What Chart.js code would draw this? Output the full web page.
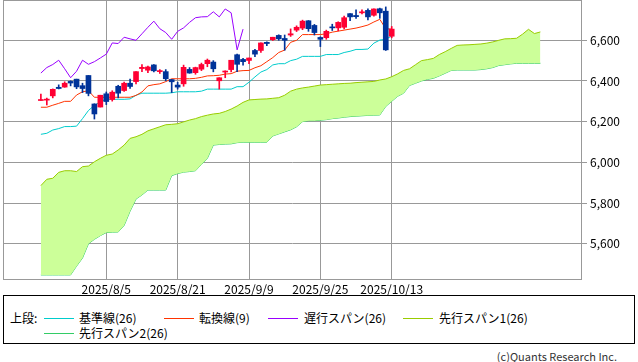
<!DOCTYPE html>
<html>
<head>
<meta charset="utf-8">
<script src="https://cdn.jsdelivr.net/npm/chart.js@4.4.1/dist/chart.umd.min.js"></script>
<style>
  body { margin: 0; background: #fff; font-family: 'Noto Sans CJK JP', 'Noto Sans', sans-serif; }
  #wrap { position: absolute; left: 0; top: 0; width: 638px; height: 295px; }
  #legend { position: absolute; left: 3px; top: 295px; width: 632px; height: 49px; border: 1px solid #000; box-sizing: border-box; }
  .lt { position: absolute; font-size: 12px; line-height: 14px; color: #000; white-space: nowrap; }
  .ll { position: absolute; width: 30px; height: 1px; }
  #copy { position: absolute; right: 21px; top: 348px; font-size: 11px; color: #333; }
</style>
</head>
<body>
<div id="wrap"><canvas id="chart"></canvas></div>
<div id="legend">
  <span class="lt" style="left:6px;top:15px">上段:</span>
  <span class="ll" style="left:40px;top:22px;background:#00cccc"></span>
  <span class="lt" style="left:75px;top:15px">基準線(26)</span>
  <span class="ll" style="left:160px;top:22px;background:#ff3300"></span>
  <span class="lt" style="left:195px;top:15px">転換線(9)</span>
  <span class="ll" style="left:264px;top:22px;background:#9900ff"></span>
  <span class="lt" style="left:300px;top:15px">遅行スパン(26)</span>
  <span class="ll" style="left:399px;top:22px;background:#99cc00"></span>
  <span class="lt" style="left:435px;top:15px">先行スパン1(26)</span>
  <span class="ll" style="left:40px;top:37px;background:#33cc66"></span>
  <span class="lt" style="left:75px;top:30px">先行スパン2(26)</span>
</div>
<div id="copy">(c)Quants Research Inc.</div>
<script>
// daily candles, 2025/7/21 .. 2025/10/13 (index 0..59)
const opens = [6304,6306,6327,6369,6370,6398,6409,6377,6427,6287,
  6272,6337,6309,6374,6353,6389,6397,6461,6453,6479,
  6446,6446,6407,6380,6386,6457,6441,6458,6485,6493,
  6401,6444,6456,6529,6506,6501,6550,6550,6590,6603,
  6624,6609,6626,6650,6660,6696,6673,6614,6613,6663,
  6661,6664,6731,6722,6735,6747,6723,6755,6743,6620];
const highs = [6336,6316,6361,6381,6396,6401,6409,6389,6427,6288,
  6330,6346,6352,6379,6395,6409,6446,6481,6473,6481,
  6456,6456,6408,6394,6478,6466,6468,6488,6508,6500,
  6416,6450,6502,6532,6511,6513,6555,6588,6593,6615,
  6627,6626,6656,6671,6699,6697,6678,6617,6650,6679,
  6691,6719,6731,6750,6750,6754,6755,6758,6764,6668];
const lows = [6304,6282,6317,6361,6369,6376,6362,6343,6327,6213,
  6272,6284,6301,6317,6349,6364,6385,6446,6441,6444,
  6437,6401,6343,6360,6374,6438,6433,6451,6470,6445,
  6360,6416,6445,6446,6478,6485,6520,6540,6573,6599,
  6600,6551,6619,6643,6652,6644,6626,6569,6605,6648,
  6646,6656,6697,6707,6730,6700,6719,6708,6550,6612];
const closes = [6306,6310,6359,6363,6389,6390,6371,6363,6339,6238,
  6330,6299,6345,6340,6389,6373,6446,6467,6469,6450,
  6449,6411,6396,6370,6467,6439,6466,6481,6502,6460,
  6416,6448,6502,6482,6495,6513,6532,6587,6584,6615,
  6607,6600,6632,6664,6694,6657,6638,6605,6644,6661,
  6688,6711,6715,6716,6740,6715,6754,6735,6553,6655];

// 転換線(9) / 基準線(26), index 0..59
const tenkan = [6271,6271,6281,6290,6300,6300,6331,6347,6352,6320,
  6320,6320,6320,6320,6320,6320,6329,6346,6376,6382,
  6386,6397,6411,6411,6411,6411,6413,6418,6425,6426,
  6428,6434,6436,6448,6451,6452,6465,6475,6495,6515,
  6540,6552,6590,6600,6628,6628,6628,6628,6632,6640,
  6645,6650,6655,6660,6667,6675,6690,6703,6657,6655];
const kijun = [6138,6143,6159,6166,6176,6176,6178,6215,6255,6280,
  6298,6310,6310,6310,6310,6312,6330,6340,6340,6340,
  6340,6340,6342,6347,6347,6347,6347,6350,6360,6360,
  6360,6360,6360,6372,6372,6394,6420,6444,6456,6479,
  6485,6485,6500,6507,6521,6521,6521,6521,6530,6530,
  6530,6540,6546,6555,6555,6557,6586,6601,6605,6621];

// 先行スパン1 / 2, index 0..84 (runs 25 days past the last candle)
const span1 = [5886,5917,5922,5951,5959,5959,5955,5979,5982,6003,
  6020,6035,6041,6061,6085,6118,6126,6138,6155,6165,
  6175,6185,6187,6190,6199,6208,6215,6225,6232,6238,
  6241,6250,6262,6277,6295,6307,6309,6311,6312,6315,
  6318,6330,6350,6360,6366,6370,6375,6380,6382,6384,
  6386,6388,6389,6392,6394,6396,6398,6405,6410,6421,
  6435,6452,6460,6480,6500,6505,6511,6530,6544,6560,
  6575,6577,6578,6580,6582,6586,6592,6600,6607,6608,
  6610,6630,6654,6633,6641];
const span2 = [5447,5447,5447,5447,5447,5447,5490,5530,5600,5622,
  5640,5655,5657,5658,5690,5760,5820,5840,5864,5864,
  5864,5864,5935,5945,5952,5955,5959,5990,6020,6085,
  6088,6090,6091,6097,6099,6099,6099,6099,6099,6130,
  6140,6150,6160,6175,6200,6205,6205,6207,6210,6215,
  6218,6222,6225,6227,6229,6231,6232,6233,6275,6300,
  6325,6340,6378,6389,6400,6408,6413,6425,6438,6452,
  6454,6454,6454,6454,6456,6460,6466,6476,6480,6484,
  6487,6487,6487,6487,6487];

const chikouShift = 25;
const xTickIndex = [11, 23, 35, 47, 59];
const xTickLabels = ['2025/8/5', '2025/8/21', '2025/9/9', '2025/9/25', '2025/10/13'];
const yTicks = [5600, 5800, 6000, 6200, 6400, 6600];

const UP = '#ff0033', DOWN = '#003399';
const FONT = "'Noto Sans CJK JP', 'Noto Sans', sans-serif";

const pts = arr => arr.map((v, i) => ({ x: i, y: v }));
const candleColors = closes.map((c, i) => c >= opens[i] ? UP : DOWN);
const chikou = closes.slice(chikouShift).map((c, i) => ({ x: i, y: c }));

const framePlugin = {
  id: 'frame',
  beforeDatasetsDraw(chart) {
    const { ctx, chartArea: a } = chart;
    ctx.save();
    ctx.strokeStyle = '#999999';
    ctx.lineWidth = 1;
    ctx.strokeRect(a.left + 0.5, a.top + 0.5, a.right - a.left - 1, a.bottom - a.top - 1);
    ctx.restore();
  }
};

const lineDs = (label, data, color, order, extra) => Object.assign({
  type: 'line', label, data, borderColor: color, borderWidth: 1,
  pointRadius: 0, tension: 0, fill: false, order
}, extra || {});

new Chart(document.getElementById('chart'), {
  type: 'line',
  data: {
    datasets: [
      {
        type: 'bar', label: 'body',
        data: opens.map((o, i) => ({ x: i, y: [o, closes[i]] })),
        backgroundColor: candleColors, barThickness: 5, minBarLength: 1,
        grouped: false, borderWidth: 0, order: 0
      },
      {
        type: 'bar', label: 'wick',
        data: lows.map((l, i) => ({ x: i, y: [l, highs[i]] })),
        backgroundColor: candleColors, barThickness: 1,
        grouped: false, borderWidth: 0, order: 1
      },
      lineDs('転換線(9)', pts(tenkan), '#ff3300', 2),
      lineDs('基準線(26)', pts(kijun), '#00cccc', 3),
      lineDs('遅行スパン(26)', chikou, '#9900ff', 4),
      lineDs('先行スパン1(26)', pts(span1), '#99cc00', 5, { fill: '+1', backgroundColor: '#ccff99' }),
      lineDs('先行スパン2(26)', pts(span2), '#33cc66', 6)
    ]
  },
  options: {
    responsive: true,
    maintainAspectRatio: false,
    animation: false,
    layout: { padding: { left: 3, top: 0, right: 0, bottom: 0 } },
    plugins: { legend: { display: false }, tooltip: { enabled: false } },
    scales: {
      x: {
        type: 'linear', min: -6.37, max: 91.0, offset: false,
        grid: { color: '#999999', offset: false, drawTicks: false },
        border: { display: false },
        ticks: {
          color: '#000', font: { family: FONT, size: 12 }, padding: 2,
          maxRotation: 0, autoSkip: false,
          callback: (v, i) => xTickLabels[i]
        },
        afterBuildTicks: s => { s.ticks = xTickIndex.map(v => ({ value: v })); },
        afterFit: s => { s.height = 15; s.paddingLeft = 0; s.paddingRight = 0; }
      },
      y: {
        position: 'right', min: 5422, max: 6798, beginAtZero: false,
        grid: { color: '#999999', tickLength: 5 },
        border: { display: false },
        ticks: {
          color: '#000', font: { family: FONT, size: 12 }, padding: 3,
          callback: v => v.toLocaleString('en-US')
        },
        afterBuildTicks: s => { s.ticks = yTicks.map(v => ({ value: v })); },
        afterFit: s => { s.width = 56; s.paddingTop = 0; s.paddingBottom = 0; }
      }
    }
  },
  plugins: [framePlugin]
});
</script>
</body>
</html>
